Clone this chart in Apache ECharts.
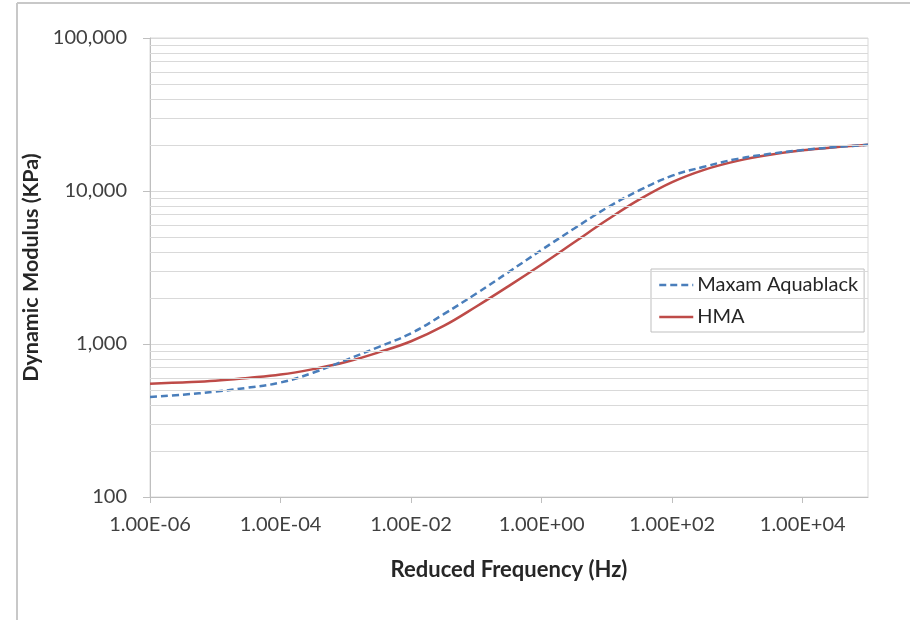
<!DOCTYPE html>
<html>
<head>
<meta charset="utf-8">
<script src="https://cdn.jsdelivr.net/npm/echarts@6/dist/echarts.min.js"></script>
<style>
html,body{margin:0;padding:0;background:#fff;}
#chart{width:910px;height:620px;}
</style>
</head>
<body>
<div id="chart"></div>
<script>
// Reduced frequency (Hz), read at half-decade steps
const frequencies = [1e-6, 3.16e-6, 1e-5, 3.16e-5, 1e-4, 3.16e-4, 1e-3, 3.16e-3, 1e-2, 3.16e-2, 1e-1, 3.16e-1, 1, 3.16, 10, 31.6, 100, 316, 1000, 3160, 1e4, 3.16e4, 1e5];
// Dynamic modulus (KPa)
const maxamAquablack = [450, 466, 488, 518, 560, 649, 785, 955, 1175, 1567, 2138, 2965, 4121, 5689, 7762, 10116, 12590, 14450, 16220, 17500, 18530, 19360, 20040];
const hma = [550, 561, 575, 600, 631, 685, 762, 881, 1042, 1312, 1758, 2399, 3311, 4624, 6457, 8810, 11430, 13800, 15740, 17260, 18450, 19320, 20040];
const seriesNames = ['Maxam Aquablack', 'HMA'];
const xTickValues = [1e-6, 1e-4, 1e-2, 1, 1e2, 1e4];
const yMinorGrid = [200, 300, 400, 500, 600, 700, 800, 900, 2000, 3000, 4000, 5000, 6000, 7000, 8000, 9000, 20000, 30000, 40000, 50000, 60000, 70000, 80000, 90000];

function sciLabel(v) {
  const e = Math.round(Math.log10(v));
  const s = e < 0 ? '-' : '+';
  const a = Math.abs(e);
  return '1.00E' + s + (a < 10 ? '0' : '') + a;
}
function commaLabel(v) {
  return Math.round(v).toString().replace(/\B(?=(\d{3})+(?!\d))/g, ',');
}

const chart = echarts.init(document.getElementById('chart'));
const FONT = 'Lato, "Open Sans", sans-serif';
chart.setOption({
  animation: false,
  backgroundColor: '#fff',
  graphic: [
    { type: 'line', shape: { x1: 17, y1: 3, x2: 910, y2: 3 }, style: { stroke: '#c8c8c8', lineWidth: 2 }, silent: true },
    { type: 'line', shape: { x1: 17, y1: 3, x2: 17, y2: 620 }, style: { stroke: '#c8c8c8', lineWidth: 2 }, silent: true }
  ],
  grid: {
    left: 150, right: 42, top: 38, bottom: 123,
    show: true, borderColor: '#d9d9d9', borderWidth: 1, backgroundColor: 'transparent'
  },
  legend: {
    data: seriesNames,
    orient: 'vertical',
    left: 651, top: 269,
    padding: [6, 6, 5, 7],
    itemGap: 12,
    itemWidth: 34, itemHeight: 12,
    backgroundColor: '#fff',
    borderColor: '#bfbfbf', borderWidth: 1, borderRadius: 0,
    itemStyle: { color: 'rgba(0,0,0,0)', borderWidth: 0, opacity: 0 },
    lineStyle: { width: 2.5 },
    textStyle: { fontFamily: FONT, fontSize: 20, color: '#262626', padding: [0, 0, 0, -1] }
  },
  xAxis: {
    type: 'log', logBase: 10, min: 1e-6, max: 1e5,
    name: 'Reduced Frequency (Hz)', nameLocation: 'middle', nameGap: 62,
    nameTextStyle: { fontFamily: FONT, fontSize: 22, fontWeight: 'bold', color: '#262626' },
    axisLine: { show: true, lineStyle: { color: '#bfbfbf', width: 1 } },
    axisTick: { show: true, inside: false, length: 6, lineStyle: { color: '#bfbfbf' }, customValues: xTickValues },
    axisLabel: { fontFamily: FONT, fontSize: 20, color: '#404040', margin: 18, formatter: sciLabel, customValues: xTickValues },
    splitLine: { show: false },
    minorTick: { show: false }
  },
  yAxis: {
    type: 'log', logBase: 10, min: 100, max: 100000,
    name: 'Dynamic Modulus (KPa)', nameLocation: 'middle', nameGap: 102, nameRotate: 90,
    nameTextStyle: { fontFamily: FONT, fontSize: 21.5, fontWeight: 'bold', color: '#262626' },
    axisLine: { show: true, lineStyle: { color: '#bfbfbf', width: 1 } },
    axisTick: { show: true, inside: false, length: 7, lineStyle: { color: '#bfbfbf' } },
    axisLabel: { fontFamily: FONT, fontSize: 20, color: '#404040', margin: 23, formatter: commaLabel },
    splitLine: { show: true, lineStyle: { color: '#d9d9d9', width: 1 } }
  },
  series: [
    {
      name: 'gridMinor', type: 'line', data: [], z: 0, silent: true,
      markLine: {
        silent: true, symbol: 'none', animation: false,
        label: { show: false },
        lineStyle: { color: '#d9d9d9', width: 1, type: 'solid' },
        data: yMinorGrid.map(v => ({ yAxis: v }))
      }
    },
    {
      name: seriesNames[0], type: 'line', symbol: 'none', smooth: 0.4, z: 3,
      data: frequencies.map((f, i) => [f, maxamAquablack[i]]),
      lineStyle: { color: '#4a7ebb', width: 2.5, type: [7, 4] },
      itemStyle: { color: '#4a7ebb' }
    },
    {
      name: seriesNames[1], type: 'line', symbol: 'none', smooth: 0.4, z: 2,
      data: frequencies.map((f, i) => [f, hma[i]]),
      lineStyle: { color: '#be4b48', width: 2.5, type: 'solid' },
      itemStyle: { color: '#be4b48' }
    }
  ]
});
</script>
</body>
</html>
